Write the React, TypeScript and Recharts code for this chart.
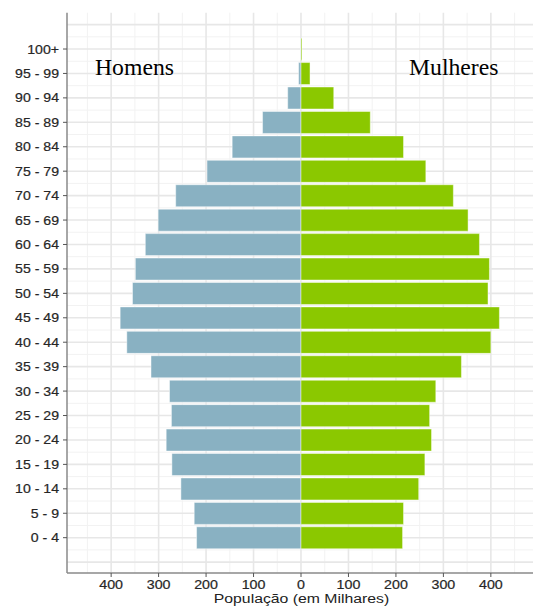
import React from 'react';
import { BarChart, Bar, XAxis, YAxis, CartesianGrid } from 'recharts';

const ageGroups = ['0 - 4', '5 - 9', '10 - 14', '15 - 19', '20 - 24', '25 - 29', '30 - 34', '35 - 39', '40 - 44', '45 - 49', '50 - 54', '55 - 59', '60 - 64', '65 - 69', '70 - 74', '75 - 79', '80 - 84', '85 - 89', '90 - 94', '95 - 99', '100+'];
const homens = [220, 225, 253, 272, 284, 273, 277, 316, 367, 381, 355, 349, 328, 301, 264, 198, 145, 81, 28, 5, 0.5];
const mulheres = [214, 216, 248, 261, 275, 271, 284, 338, 400, 418, 394, 397, 376, 352, 321, 263, 216, 146, 69, 19, 2];
const xTicks = [-400, -300, -200, -100, 0, 100, 200, 300, 400];
const xMinor = [-450, -350, -250, -150, -50, 50, 150, 250, 350, 450];
const yTicks = [0, 1, 2, 3, 4, 5, 6, 7, 8, 9, 10, 11, 12, 13, 14, 15, 16, 17, 18, 19, 20];
const yMajor = [-1, 0, 1, 2, 3, 4, 5, 6, 7, 8, 9, 10, 11, 12, 13, 14, 15, 16, 17, 18, 19, 20, 21];
const yMinor = [-0.5, 0.5, 1.5, 2.5, 3.5, 4.5, 5.5, 6.5, 7.5, 8.5, 9.5, 10.5, 11.5, 12.5, 13.5, 14.5, 15.5, 16.5, 17.5, 18.5, 19.5, 20.5];

const data = ageGroups.map((age, i) => ({ pos: i, age, homens: -homens[i], mulheres: mulheres[i] }));

const W = 540;
const H = 607;
const TOP = 12.7;
const BOTTOM_AXIS_H = 34;
const PAD_TOP = 24.1;
const PAD_BOTTOM = 23.1;
const plotH = H - TOP - BOTTOM_AXIS_H;
const band = (plotH - PAD_TOP - PAD_BOTTOM) / ageGroups.length;
const Y_DOMAIN = [-0.5 - PAD_BOTTOM / band, ageGroups.length - 0.5 + PAD_TOP / band];
const X_DOMAIN = [-493, 493];

const FONT = '"Liberation Sans", Arial, Helvetica, sans-serif';

const YTick = (props: any) => {
  const { x, y, payload } = props;
  return (
    <g transform={`translate(${x},${y})`}>
      <text transform="scale(1.13,1)" textAnchor="end" dy="0.36em" fontFamily={FONT} fontSize={12.5} fill="#262626" stroke="#262626" strokeWidth={0.2}>
        {ageGroups[Math.round(payload.value)]}
      </text>
    </g>
  );
};

const XTick = (props: any) => {
  const { x, y, payload } = props;
  return (
    <g transform={`translate(${x},${y})`}>
      <text transform="scale(1.14,1)" textAnchor="middle" y={9.5} fontFamily={FONT} fontSize={12.5} fill="#262626" stroke="#262626" strokeWidth={0.2}>
        {Math.abs(payload.value)}
      </text>
    </g>
  );
};

export default function App() {
  return (
    <div style={{ position: 'absolute', left: 0, top: 0, width: 533, height: 607, overflow: 'hidden', background: '#fff' }}>
      <BarChart
        width={W}
        height={H}
        data={data}
        layout="vertical"
        stackOffset="sign"
        barCategoryGap="5.5%"
        margin={{ top: TOP, right: 5, left: 12, bottom: 0 }}
      >
        <CartesianGrid horizontalValues={yMinor} verticalValues={xMinor} stroke="#f2f2f2" strokeWidth={1} />
        <CartesianGrid horizontalValues={yMajor} verticalValues={xTicks} stroke="#e7e7e7" strokeWidth={1.6} />
        <XAxis
          type="number"
          domain={X_DOMAIN}
          ticks={xTicks}
          allowDataOverflow
          height={BOTTOM_AXIS_H}
          tick={<XTick />}
          tickSize={4}
          tickLine={{ stroke: '#555', strokeWidth: 1 }}
          axisLine={{ stroke: '#8a8a8a', strokeWidth: 1.5 }}
        />
        <XAxis
          xAxisId="top"
          orientation="top"
          type="number"
          domain={X_DOMAIN}
          allowDataOverflow
          height={0}
          tick={false}
          tickLine={false}
          axisLine={{ stroke: '#9a9a9a', strokeWidth: 1.5 }}
        />
        <YAxis
          type="number"
          dataKey="pos"
          domain={Y_DOMAIN}
          ticks={yTicks}
          allowDataOverflow
          reversed
          width={55}
          interval={0}
          tick={<YTick />}
          tickSize={4}
          tickMargin={4}
          tickLine={{ stroke: '#555', strokeWidth: 1 }}
          axisLine={{ stroke: '#8a8a8a', strokeWidth: 1.5 }}
        />
        <Bar dataKey="homens" stackId="a" fill="#89b1c2" stroke="#ffffff" strokeOpacity={0.45} strokeWidth={1} isAnimationActive={false} />
        <Bar dataKey="mulheres" stackId="a" fill="#8bc800" stroke="#ffffff" strokeOpacity={0.45} strokeWidth={1} isAnimationActive={false} />
      </BarChart>
      <svg width={533} height={607} style={{ position: 'absolute', left: 0, top: 0, pointerEvents: 'none' }}>
        <text x={95} y={75} fontFamily='"Liberation Serif", "Times New Roman", serif' fontSize={23.7} fill="#000">Homens</text>
        <text x={409} y={75} fontFamily='"Liberation Serif", "Times New Roman", serif' fontSize={23.7} fill="#000">Mulheres</text>
        <text transform="translate(301.5,603) scale(1.17,1)" textAnchor="middle" fontFamily={FONT} fontSize={13.5} fill="#222">
          População (em Milhares)
        </text>
      </svg>
    </div>
  );
}
